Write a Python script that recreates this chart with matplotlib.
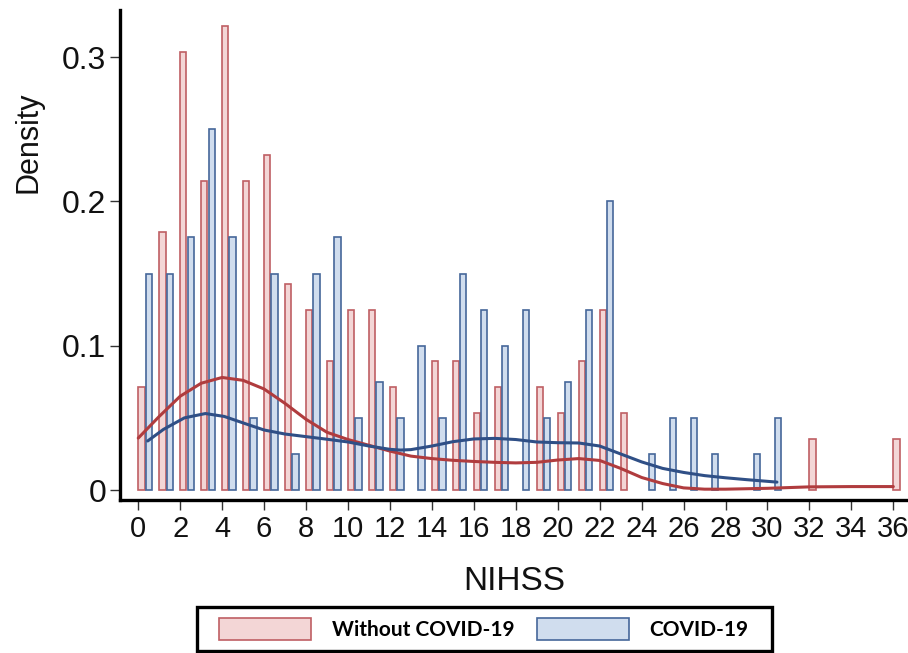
import matplotlib
matplotlib.use("Agg")
import matplotlib.pyplot as plt
from matplotlib.patches import Patch, Rectangle

plt.rcParams["font.family"] = ["Liberation Sans", "DejaVu Sans"]

# histogram bars: NIHSS score -> density
red_scores = [0, 1, 2, 3, 4, 5, 6, 7, 8, 9, 10, 11, 12, 14, 15, 16, 17,
              19, 20, 21, 22, 23, 32, 36]
red_density = [0.0714, 0.1786, 0.3036, 0.2143, 0.3214, 0.2143, 0.2321,
               0.1429, 0.125, 0.0893, 0.125, 0.125, 0.0714, 0.0893, 0.0893,
               0.0536, 0.0714, 0.0714, 0.0536, 0.0893, 0.125, 0.0536,
               0.0357, 0.0357]

blue_scores = [0, 1, 2, 3, 4, 5, 6, 7, 8, 9, 10, 11, 12, 13, 14, 15, 16,
               17, 18, 19, 20, 21, 22, 24, 25, 26, 27, 29, 30]
blue_density = [0.15, 0.15, 0.175, 0.25, 0.175, 0.05, 0.15, 0.025, 0.15,
                0.175, 0.05, 0.075, 0.05, 0.10, 0.05, 0.15, 0.125, 0.10,
                0.125, 0.05, 0.075, 0.125, 0.20, 0.025, 0.05, 0.05, 0.025,
                0.025, 0.05]

# kernel density curves
red_kde_x = [0, 1, 2, 3, 4, 5, 6, 7, 8, 9, 10, 11, 12, 13, 14, 15, 16, 17,
             18, 19, 20, 21, 22, 23, 24, 25, 26, 27, 28, 30, 32, 34, 36]
red_kde_y = [0.036, 0.051, 0.065, 0.074, 0.078, 0.076, 0.070, 0.060, 0.049,
             0.040, 0.035, 0.031, 0.027, 0.0235, 0.0218, 0.0206, 0.0198,
             0.0192, 0.0188, 0.0192, 0.0208, 0.0218, 0.0205, 0.015, 0.0087,
             0.0045, 0.0015, 0.0006, 0.0006, 0.0012, 0.0022, 0.0024, 0.0024]

blue_kde_x = [0.45, 1.2, 2.2, 3.2, 4.1, 5.1, 6.0, 7.0, 8.0, 9.0, 10.0, 11.0,
              12.0, 12.5, 13.0, 14.0, 15.0, 16.0, 17.0, 18.0, 19.0, 20.0,
              21.0, 22.0, 23.0, 24.0, 25.0, 26.0, 27.0, 28.0, 29.0, 30.45]
blue_kde_y = [0.034, 0.042, 0.050, 0.053, 0.051, 0.046, 0.0416, 0.0388,
              0.037, 0.0352, 0.0333, 0.0305, 0.0282, 0.0277, 0.0280, 0.0305,
              0.0335, 0.0354, 0.0358, 0.0350, 0.0333, 0.0328, 0.0326, 0.0305,
              0.025, 0.0195, 0.015, 0.0122, 0.0100, 0.0085, 0.0072, 0.0055]

RED_EDGE = "#bf5f63"
RED_FILL = "#f3d6d6"
BLUE_EDGE = "#46679a"
BLUE_FILL = "#d0ddee"
RED_LINE = "#b03c3e"
BLUE_LINE = "#2f4f86"

W, H = 908, 653
fig = plt.figure(figsize=(W / 100, H / 100), dpi=100)
ax = fig.add_axes([120 / W, 1 - 500 / H, 1 - 120 / W, 490 / H])

ax.bar([s + 0.15 for s in red_scores], red_density, width=0.3,
       facecolor=RED_FILL, edgecolor=RED_EDGE, linewidth=1.2, zorder=2)
ax.bar([s + 0.5 for s in blue_scores], blue_density, width=0.3,
       facecolor=BLUE_FILL, edgecolor=BLUE_EDGE, linewidth=1.2, zorder=2)

ax.plot(red_kde_x, red_kde_y, color=RED_LINE, linewidth=2.2, zorder=3,
        solid_capstyle="round", solid_joinstyle="round")
ax.plot(blue_kde_x, blue_kde_y, color=BLUE_LINE, linewidth=2.2, zorder=3,
        solid_capstyle="round", solid_joinstyle="round")

ax.set_xlim(-0.87, 36.7)
ax.set_ylim(-0.0069, 0.3326)

ax.spines["top"].set_visible(False)
ax.spines["right"].set_visible(False)
for side in ["left", "bottom"]:
    ax.spines[side].set_linewidth(2.4)
    ax.spines[side].set_color("black")

ax.set_xticks(range(0, 37, 2))
ax.set_yticks([0, 0.1, 0.2, 0.3])
ax.set_yticklabels(["0", "0.1", "0.2", "0.3"])
ax.tick_params(axis="both", length=7, width=1.0, color="#333333",
               labelcolor="#111111")
ax.tick_params(axis="x", pad=4, labelsize=21)
ax.tick_params(axis="y", pad=3, labelsize=23)

ax.set_xlabel("NIHSS", fontsize=24, color="#111111", labelpad=16)
ax.set_ylabel("Density", fontsize=22, color="#111111")
ax.yaxis.set_label_coords(-0.097, 0.73)

handles = [
    Patch(facecolor=RED_FILL, edgecolor=RED_EDGE, linewidth=1.2),
    Patch(facecolor=BLUE_FILL, edgecolor=BLUE_EDGE, linewidth=1.2),
]
leg = fig.legend(handles, ["Without COVID-19", "COVID-19"], ncol=2,
                 loc="center", bbox_to_anchor=(484 / W, 1 - 629 / H),
                 frameon=False,
                 prop={"family": ["Lato", "DejaVu Sans"], "weight": "bold",
                       "size": 15},
                 handlelength=4.4, handleheight=1.3, handletextpad=1.0,
                 columnspacing=1.1, borderpad=0.4, borderaxespad=0)

# legend box drawn as its own rectangle
fig.patches.append(Rectangle((197 / W, 1 - 651 / H), 575 / W, 44 / H,
                             transform=fig.transFigure, fill=False,
                             edgecolor="black", linewidth=2.4, zorder=1))

fig.savefig("out.png", dpi=100)
